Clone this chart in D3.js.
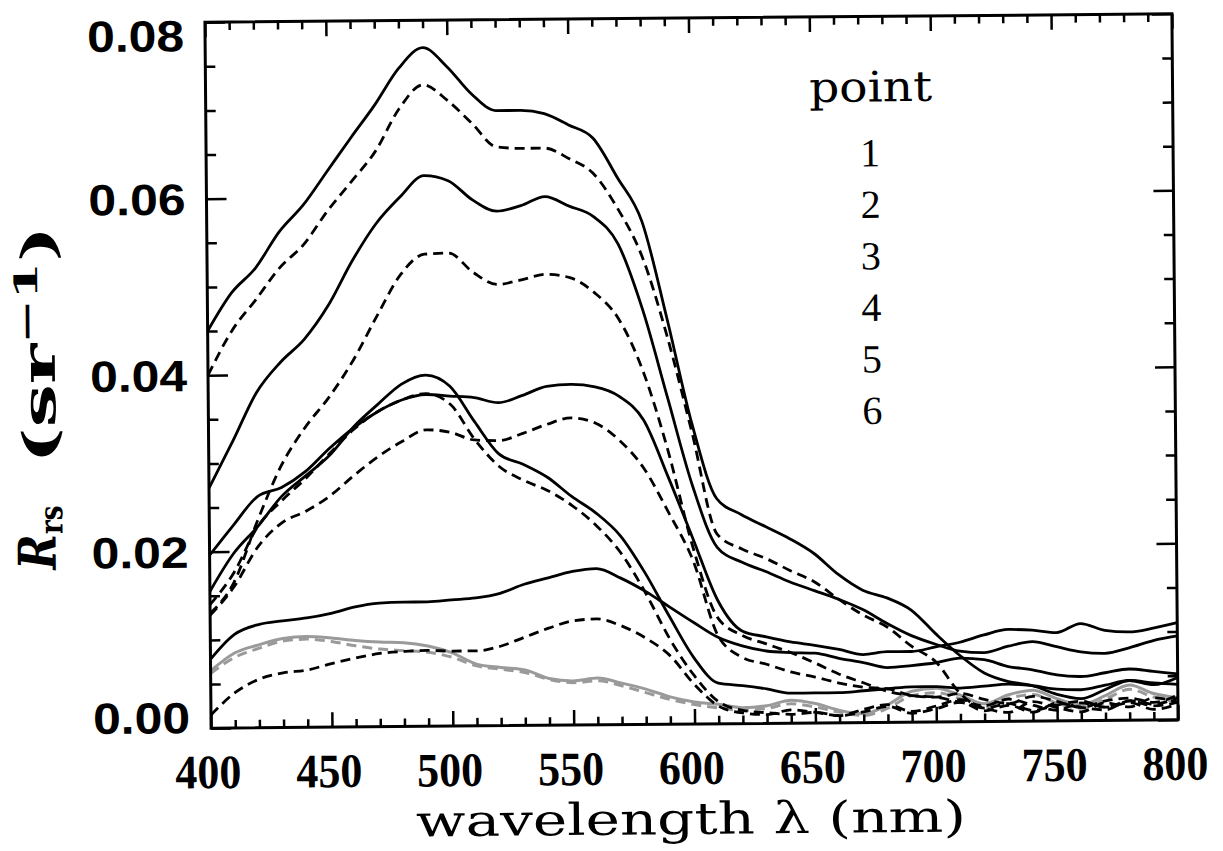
<!DOCTYPE html>
<html><head><meta charset="utf-8">
<script src="https://cdn.jsdelivr.net/npm/d3@7"></script>
<style>body{margin:0;background:#fff} svg{display:block}</style>
</head><body>
<svg id="c" width="1223" height="851"></svg>
<script>
// ---- data -------------------------------------------------------------
const wavelengths = [400,410,420,430,440,450,460,470,480,490,500,510,520,530,540,550,560,570,580,590,600,
                     610,620,630,640,650,660,670,680,690,700,710,720,730,740,750,760,770,780,790,800];

const point1Solid  = [.0450,.0493,.0521,.0562,.0592,.0630,.0668,.0705,.0746,.0769,.0747,.0716,.0697,.0697,.0693,.0680,.0665,.0620,.0570,.0460,.0340,
                      .0255,.0237,.0223,.0209,.0192,.0168,.0150,.0141,.0127,.0100,.0075,.0055,.0045,.0040,.0030,.0025,.0035,.0045,.0040,.0048];
const point1Dashed = [.0400,.0450,.0485,.0521,.0547,.0585,.0618,.0652,.0700,.0727,.0709,.0683,.0656,.0654,.0654,.0642,.0625,.0585,.0530,.0440,.0330,
                      .0215,.0198,.0187,.0173,.0160,.0140,.0122,.0108,.0086,.0068,.0032,.0015,.0020,.0012,.0018,.0022,.0015,.0020,.0012,.0018];
const point2Solid  = [.0272,.0325,.0380,.0414,.0440,.0478,.0528,.0570,.0600,.0624,.0618,.0596,.0583,.0589,.0599,.0588,.0576,.0545,.0470,.0370,.0270,
                      .0200,.0183,.0172,.0160,.0150,.0140,.0128,.0112,.0098,.0088,.0080,.0078,.0085,.0090,.0084,.0078,.0076,.0082,.0090,.0095];
const point2Dashed = [.0130,.0165,.0235,.0297,.0340,.0374,.0415,.0465,.0512,.0535,.0536,.0514,.0500,.0505,.0511,.0507,.0490,.0460,.0400,.0310,.0200,
                      .0120,.0100,.0090,.0080,.0068,.0055,.0045,.0035,.0030,.0028,.0022,.0018,.0025,.0018,.0012,.0020,.0015,.0022,.0018,.0025];
const point3Solid  = [.0155,.0198,.0228,.0262,.0285,.0308,.0340,.0365,.0388,.0398,.0385,.0345,.0308,.0296,.0281,.0259,.0240,.0214,.0172,.0122,.0075,
                      .0046,.0043,.0039,.0034,.0034,.0034,.0036,.0038,.0040,.0040,.0038,.0040,.0042,.0040,.0036,.0035,.0040,.0045,.0042,.0040];
const point3Dashed = [.0140,.0176,.0228,.0257,.0282,.0310,.0337,.0357,.0370,.0377,.0365,.0325,.0294,.0278,.0266,.0249,.0226,.0195,.0150,.0097,.0055,
                      .0025,.0015,.0012,.0010,.0012,.0008,.0015,.0020,.0012,.0018,.0025,.0015,.0010,.0022,.0015,.0010,.0020,.0015,.0025,.0020];
const point4Solid  = [.0196,.0230,.0262,.0272,.0290,.0316,.0339,.0357,.0370,.0376,.0374,.0372,.0366,.0374,.0384,.0386,.0383,.0372,.0345,.0280,.0210,
                      .0140,.0105,.0098,.0092,.0088,.0083,.0077,.0080,.0080,.0085,.0090,.0098,.0104,.0103,.0100,.0110,.0102,.0100,.0104,.0110];
const point4Dashed = [.0128,.0160,.0205,.0232,.0245,.0262,.0285,.0306,.0323,.0336,.0333,.0324,.0323,.0331,.0341,.0348,.0342,.0322,.0290,.0240,.0185,
                      .0100,.0075,.0067,.0058,.0052,.0045,.0040,.0038,.0030,.0028,.0032,.0025,.0020,.0028,.0022,.0015,.0022,.0025,.0020,.0028];
const point5Solid  = [.0078,.0106,.0117,.0121,.0124,.0129,.0136,.0140,.0141,.0141,.0143,.0145,.0150,.0160,.0167,.0174,.0177,.0166,.0151,.0133,.0115,
                      .0098,.0088,.0082,.0080,.0079,.0073,.0068,.0062,.0064,.0067,.0072,.0070,.0062,.0058,.0052,.0050,.0054,.0058,.0055,.0052];
const point5Dashed = [.0015,.0040,.0055,.0062,.0065,.0072,.0078,.0083,.0085,.0086,.0085,.0085,.0090,.0100,.0110,.0118,.0120,.0112,.0098,.0078,.0045,
                      .0020,.0012,.0010,.0015,.0012,.0008,.0012,.0018,.0010,.0015,.0022,.0012,.0018,.0010,.0020,.0015,.0012,.0022,.0016,.0020];
const point6Solid  = [.0065,.0085,.0094,.0101,.0103,.0101,.0098,.0096,.0095,.0091,.0083,.0070,.0066,.0063,.0053,.0050,.0053,.0047,.0040,.0031,.0025,
                      .0022,.0018,.0020,.0026,.0022,.0014,.0010,.0020,.0035,.0038,.0030,.0020,.0030,.0035,.0025,.0018,.0028,.0040,.0030,.0025];
const point6Dashed = [.0062,.0080,.0090,.0098,.0100,.0097,.0092,.0088,.0086,.0084,.0078,.0068,.0064,.0060,.0052,.0048,.0050,.0044,.0036,.0028,.0022,
                      .0018,.0015,.0017,.0022,.0018,.0012,.0008,.0016,.0030,.0033,.0026,.0016,.0026,.0030,.0020,.0014,.0024,.0035,.0026,.0020];

const xTickValues  = [400,450,500,550,600,650,700,750,800];
const xTickLabels  = ["400","450","500","550","600","650","700","750","800"];
const yTickValues  = [0,0.02,0.04,0.06,0.08];
const yTickLabels  = ["0.00","0.02","0.04","0.06","0.08"];
const legendTitle  = "point";
const legendLabels = ["1","2","3","4","5","6"];

// ---- chart ------------------------------------------------------------
const svg = d3.select("#c");
const root = svg.append("g").attr("transform", "rotate(-0.5 691.5 371)");

const x = d3.scaleLinear().domain([400, 800]).range([208, 1175]);
const y = d3.scaleLinear().domain([0, 0.08]).range([724, 18]);

const series = [
  {v: point1Solid,  dash: false, gray: false},
  {v: point1Dashed, dash: true,  gray: false},
  {v: point2Solid,  dash: false, gray: false},
  {v: point2Dashed, dash: true,  gray: false},
  {v: point3Solid,  dash: false, gray: false},
  {v: point3Dashed, dash: true,  gray: false},
  {v: point4Solid,  dash: false, gray: false},
  {v: point4Dashed, dash: true,  gray: false},
  {v: point5Solid,  dash: false, gray: false},
  {v: point5Dashed, dash: true,  gray: false},
  {v: point6Solid,  dash: false, gray: true},
  {v: point6Dashed, dash: true,  gray: true}
];

const plot = root.append("g");
const line = d3.line()
  .x((d, i) => x(wavelengths[i]))
  .y(d => y(d))
  .curve(d3.curveMonotoneX);

const order = [10, 11, 0, 1, 2, 3, 4, 5, 6, 7, 8, 9];
order.forEach(k => {
  const s = series[k];
  plot.append("path")
    .attr("d", line(s.v))
    .attr("fill", "none")
    .attr("stroke", s.gray ? "#9a9a9a" : "#000")
    .attr("stroke-width", s.gray ? 3 : 2.8)
    .attr("stroke-linejoin", "round")
    .attr("stroke-dasharray", s.dash ? "10,6" : null);
});

// axes (ticks inside on all four sides)
const xMinor = [410,420,430,440,460,470,480,490,510,520,530,540,560,570,580,590,610,620,630,640,660,670,680,690,710,720,730,740,760,770,780,790];
const yMinor = [0.005,0.010,0.015,0.025,0.030,0.035,0.045,0.050,0.055,0.065,0.070,0.075];

function styleAxis(sel) {
  sel.select(".domain").remove();
  sel.selectAll("text").remove();
  sel.selectAll("line").attr("stroke", "#000").attr("stroke-width", 2.5);
}
root.append("g").attr("transform", "translate(0,724)")
  .call(d3.axisBottom(x).tickValues(xTickValues).tickSizeInner(-15).tickSizeOuter(0)).call(styleAxis);
root.append("g").attr("transform", "translate(0,724)")
  .call(d3.axisBottom(x).tickValues(xMinor).tickSizeInner(-8).tickSizeOuter(0)).call(styleAxis);
root.append("g").attr("transform", "translate(0,18)")
  .call(d3.axisTop(x).tickValues(xTickValues).tickSizeInner(-15).tickSizeOuter(0)).call(styleAxis);
root.append("g").attr("transform", "translate(0,18)")
  .call(d3.axisTop(x).tickValues(xMinor).tickSizeInner(-8).tickSizeOuter(0)).call(styleAxis);
root.append("g").attr("transform", "translate(208,0)")
  .call(d3.axisLeft(y).tickValues(yTickValues).tickSizeInner(-20).tickSizeOuter(0)).call(styleAxis);
root.append("g").attr("transform", "translate(208,0)")
  .call(d3.axisLeft(y).tickValues(yMinor).tickSizeInner(-10).tickSizeOuter(0)).call(styleAxis);
root.append("g").attr("transform", "translate(1175,0)")
  .call(d3.axisRight(y).tickValues(yTickValues).tickSizeInner(-20).tickSizeOuter(0)).call(styleAxis);
root.append("g").attr("transform", "translate(1175,0)")
  .call(d3.axisRight(y).tickValues(yMinor).tickSizeInner(-10).tickSizeOuter(0)).call(styleAxis);

// frame
root.append("rect")
  .attr("x", x(400)).attr("y", y(0.08))
  .attr("width", x(800) - x(400)).attr("height", y(0) - y(0.08))
  .attr("fill", "none").attr("stroke", "#000").attr("stroke-width", 3);

// y tick labels (end labels nudged inward, as in the original)
yTickValues.forEach((v, i) => {
  let yy = y(v);
  if (i === 0) yy -= 11;
  if (i === yTickValues.length - 1) yy += 13;
  root.append("text")
    .attr("x", 187).attr("y", yy).attr("dy", "0.36em")
    .attr("text-anchor", "end")
    .attr("font-family", "'Liberation Sans', Arial, sans-serif")
    .attr("font-weight", "bold").attr("font-size", 44)
    .attr("textLength", 97).attr("lengthAdjust", "spacingAndGlyphs")
    .text(yTickLabels[i]);
});

// x tick labels
xTickValues.forEach((v, i) => {
  root.append("text")
    .attr("x", x(v) - 3).attr("y", 784)
    .attr("text-anchor", "middle")
    .attr("font-family", "'Liberation Serif', 'DejaVu Serif', serif")
    .attr("font-weight", "bold").attr("font-size", 48)
    .attr("textLength", 66).attr("lengthAdjust", "spacingAndGlyphs")
    .text(xTickLabels[i]);
});

// x axis title
root.append("text")
  .attr("x", 687).attr("y", 834)
  .attr("text-anchor", "middle")
  .attr("font-family", "'DejaVu Serif', 'Liberation Serif', serif")
  .attr("font-size", 44)
  .attr("textLength", 550).attr("lengthAdjust", "spacingAndGlyphs")
  .text("wavelength λ (nm)");

// y axis title: two parts, "R_rs" and "(sr^-1)"
const yt1 = root.append("text")
  .attr("transform", "translate(54,564) rotate(-90)")
  .attr("text-anchor", "start")
  .attr("font-family", "'DejaVu Serif', 'Liberation Serif', serif")
  .attr("font-weight", "bold")
  .attr("textLength", 64).attr("lengthAdjust", "spacingAndGlyphs");
yt1.append("tspan").attr("font-size", 52).attr("font-style", "italic").text("R");
yt1.append("tspan").attr("font-size", 32).attr("dy", 7).text("rs");

const yt2 = root.append("text")
  .attr("transform", "translate(55,458) rotate(-90)")
  .attr("text-anchor", "start")
  .attr("font-family", "'DejaVu Serif', 'Liberation Serif', serif")
  .attr("font-weight", "bold")
  .attr("textLength", 238).attr("lengthAdjust", "spacingAndGlyphs");
yt2.append("tspan").attr("font-size", 46).text("(sr");
yt2.append("tspan").attr("font-size", 32).attr("dy", -17).text("\u22121");
yt2.append("tspan").attr("font-size", 46).attr("dy", 17).text(")");

// legend
root.append("text")
  .attr("x", 873).attr("y", 103)
  .attr("text-anchor", "middle")
  .attr("font-family", "'DejaVu Serif', 'Liberation Serif', serif")
  .attr("font-size", 42)
  .attr("textLength", 123).attr("lengthAdjust", "spacingAndGlyphs")
  .text(legendTitle);
legendLabels.forEach((t, i) => {
  root.append("text")
    .attr("x", 872).attr("y", 168 + i * 51.5)
    .attr("text-anchor", "middle")
    .attr("font-family", "'Liberation Serif', 'DejaVu Serif', serif")
    .attr("font-size", 40)
    .text(t);
});
</script>
</body></html>
